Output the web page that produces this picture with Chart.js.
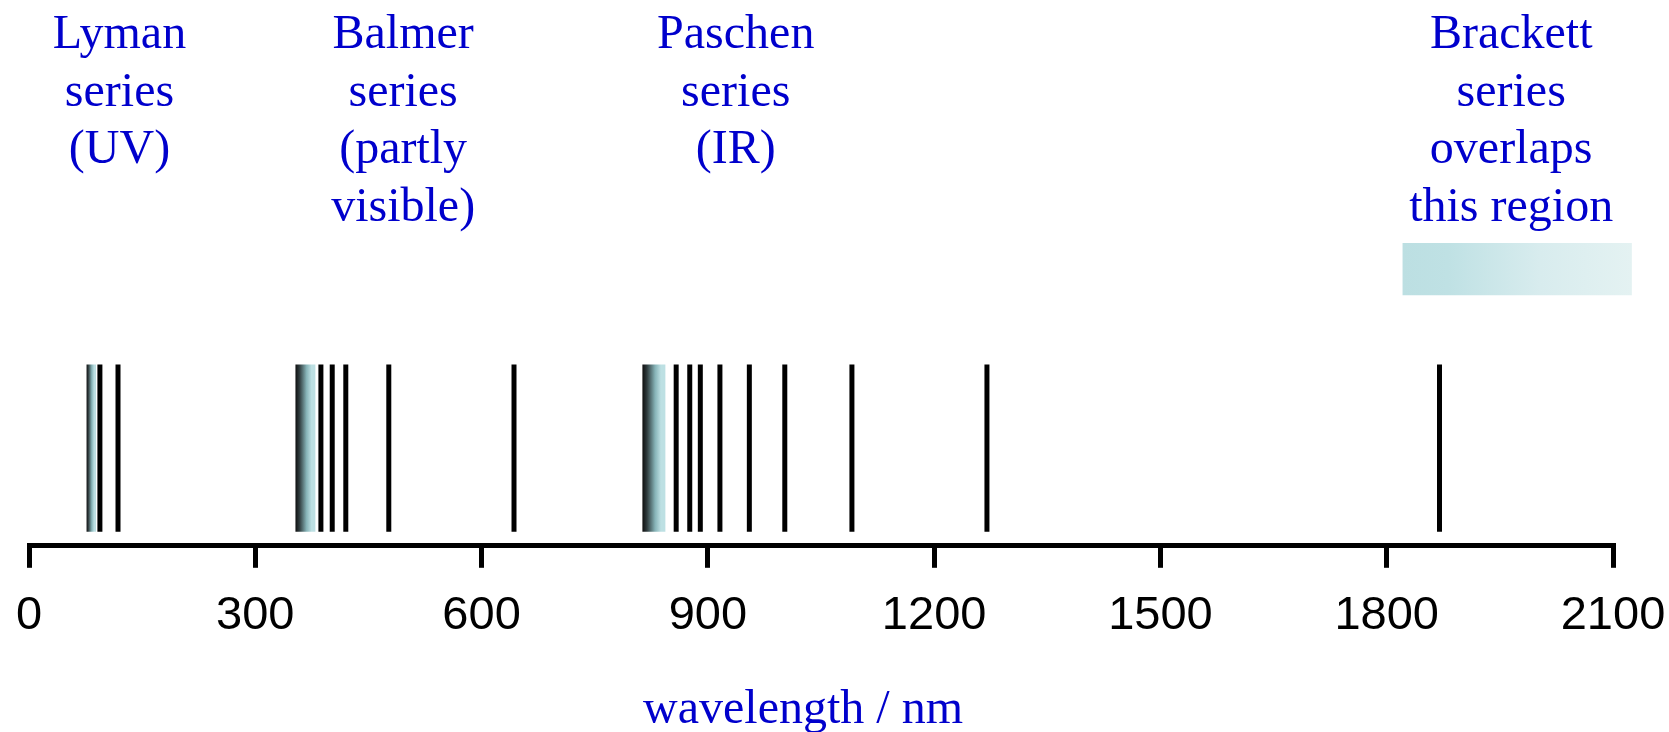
<!DOCTYPE html>
<html>
<head>
<meta charset="utf-8">
<script src="https://cdn.jsdelivr.net/npm/chart.js@4.4.1/dist/chart.umd.min.js"></script>
<style>
  html, body { margin: 0; padding: 0; background: #fff; }
</style>
</head>
<body>
<canvas id="myChart" width="1669" height="732"></canvas>
<script>
// emission lines (nm)
var lymanLines = [94, 118];
var balmerLines = [387, 402, 420, 477, 643];
var paschenLines = [858, 876, 890, 916, 955, 1002, 1091, 1270, 1870];

// shaded bands [from, to] (nm): series limits and the Brackett overlap
var lymanBand = [76, 89];
var balmerBand = [353, 380];
var paschenBand = [813, 844];
var brackettBand = [1821, 2125];

var tickValues = [0, 300, 600, 900, 1200, 1500, 1800, 2100];

var seriesNames = [
    ['Lyman', 'series', '(UV)'],
    ['Balmer', 'series', '(partly', 'visible)'],
    ['Paschen', 'series', '(IR)'],
    ['Brackett', 'series', 'overlaps', 'this region']
];
var seriesCentres = [120, 496, 937, 1965];

// vertical levels (no physical meaning, y axis is hidden)
var LINE_LO = 14, LINE_HI = 181;
var BRACKETT_LO = 250, BRACKETT_HI = 302;

var BLUE = '#0000cc';
var darkStops = [[0, '#0d0d0d'], [0.2, '#2e3a3c'], [0.55, '#86b3b7'], [0.8, '#bde0e3'], [1, '#bde0e3']];
var paleStops = [[0, '#bcdfe2'], [0.2, '#bfe1e4'], [0.6, '#d8ecee'], [1, '#e4f2f2']];

function segments(list) {
    var pts = [];
    list.forEach(v => {
        pts.push({x: v, y: LINE_LO}, {x: v, y: LINE_HI}, {x: v, y: null});
    });
    return pts;
}

function bandFill(range, stops) {
    return function (c) {
        var chart = c.chart;
        if (!chart.chartArea) return stops[stops.length - 1][1];
        var x = chart.scales.x;
        var g = chart.ctx.createLinearGradient(x.getPixelForValue(range[0]), 0, x.getPixelForValue(range[1]), 0);
        stops.forEach(s => g.addColorStop(s[0], s[1]));
        return g;
    };
}

function band(range, lo, hi, stops) {
    return {
        data: [{x: range[0], y: hi}, {x: range[1], y: hi}],
        showLine: true,
        borderWidth: 0,
        fill: {value: lo},
        backgroundColor: bandFill(range, stops)
    };
}

// the Brackett strip runs past the end of the axis, and the filler clips
// to the chart area, so draw it as one thick unclipped stroke instead
function wideBand(range, lo, hi, stops) {
    var mid = (lo + hi) / 2;
    return {
        data: [{x: range[0], y: mid}, {x: range[1], y: mid}],
        showLine: true,
        borderCapStyle: 'butt',
        borderWidth: c => {
            var y = c.chart.scales.y;
            return y ? Math.abs(y.getPixelForValue(lo) - y.getPixelForValue(hi)) : 0;
        },
        borderColor: bandFill(range, stops),
        clip: false
    };
}

var seriesLabels = {
    id: 'seriesLabels',
    afterDraw(chart) {
        var c = chart.ctx, x = chart.scales.x;
        c.save();
        c.font = '48px "Liberation Serif", "Times New Roman", serif';
        c.fillStyle = BLUE;
        c.textAlign = 'center';
        c.textBaseline = 'alphabetic';
        seriesNames.forEach((lines, i) => {
            var px = x.getPixelForValue(seriesCentres[i]);
            lines.forEach((t, j) => c.fillText(t, px, 48 + j * 57.5));
        });
        c.restore();
    }
};

var ctx = document.getElementById('myChart');
var myChart = new Chart(ctx, {
    type: 'scatter',
    data: {
        datasets: [
            {
                data: segments(lymanLines.concat(balmerLines, paschenLines)),
                showLine: true,
                spanGaps: false,
                borderColor: '#000',
                borderWidth: 5,
                borderCapStyle: 'butt'
            },
            band(lymanBand, LINE_LO, LINE_HI, darkStops),
            band(balmerBand, LINE_LO, LINE_HI, darkStops),
            band(paschenBand, LINE_LO, LINE_HI, darkStops),
            wideBand(brackettBand, BRACKETT_LO, BRACKETT_HI, paleStops)
        ]
    },
    options: {
        responsive: false,
        animation: false,
        devicePixelRatio: 1,
        elements: {point: {radius: 0, hoverRadius: 0}},
        layout: {padding: {left: 29, right: 56, top: 200, bottom: 0}},
        plugins: {legend: {display: false}, tooltip: {enabled: false}},
        scales: {
            x: {
                type: 'linear',
                min: 0,
                max: 2100,
                afterBuildTicks: axis => {
                    axis.ticks = tickValues.map(v => ({value: v}));
                },
                afterFit: axis => {
                    // labels may hang over the edges, keep the plot width fixed
                    axis.paddingLeft = 0;
                    axis.paddingRight = 0;
                },
                grid: {
                    drawOnChartArea: false,
                    drawTicks: true,
                    tickLength: 22,
                    tickWidth: 5,
                    tickColor: '#000',
                    lineWidth: 5,
                    color: '#000'
                },
                border: {display: true, color: '#000', width: 5},
                ticks: {
                    color: '#000',
                    autoSkip: false,
                    maxRotation: 0,
                    padding: 25,
                    callback: v => String(v),
                    font: {family: '"Liberation Sans", Arial, sans-serif', size: 47, lineHeight: 1}
                },
                title: {
                    display: true,
                    // trailing spaces nudge the centred title a little left, as in the original
                    text: 'wavelength / nm   ',
                    color: BLUE,
                    font: {family: '"Liberation Serif", "Times New Roman", serif', size: 48, lineHeight: 0.9},
                    padding: {top: 24, bottom: 0}
                }
            },
            y: {display: false, min: 0, max: 345}
        }
    },
    plugins: [seriesLabels]
});
</script>
</body>
</html>
